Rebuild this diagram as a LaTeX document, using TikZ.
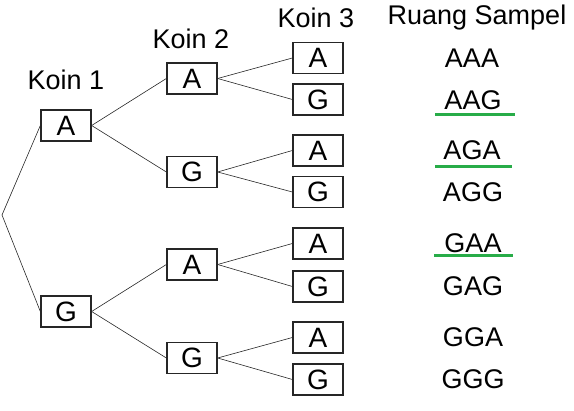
\documentclass[tikz,border=0pt]{standalone}
\usepackage{fontspec}
\setmainfont{Liberation Sans}
\definecolor{ulgreen}{RGB}{40,172,72}
\begin{document}
\begin{tikzpicture}[x=1pt,y=-1pt,
  box/.style={draw=black!85,line width=1.3pt,minimum width=50pt,minimum height=31pt,inner sep=0pt,font=\fontsize{28}{28}\selectfont},
  lbl/.style={inner sep=0pt,font=\fontsize{27}{27}\selectfont},
  res/.style={inner sep=0pt,font=\fontsize{27}{27}\selectfont},
  br/.style={draw=black!85,line width=0.6pt},
  ul/.style={draw=ulgreen,line width=3pt}]
\useasboundingbox (0,0) rectangle (574,411);
\coordinate (root) at (2,215);
\node[box] (a) at (66,125.5) {A};
\node[box] (g) at (66,311.5) {G};
\node[box] (aa) at (192,78.5) {A};
\node[box] (ag) at (192,172) {G};
\node[box] (ga) at (192,264.5) {A};
\node[box] (gg) at (192,358) {G};
\node[box] (aaa) at (318,58) {A};
\node[box] (aag) at (318,99.5) {G};
\node[box] (aga) at (318,150.5) {A};
\node[box] (agg) at (318,192) {G};
\node[box] (gaa) at (318,243.5) {A};
\node[box] (gag) at (318,286.5) {G};
\node[box] (gga) at (318,337.5) {A};
\node[box] (ggg) at (318,379.5) {G};
\node[lbl] (k1) at (66,80) {Koin 1};
\node[lbl] (k2) at (191,39) {Koin 2};
\node[lbl] (k3) at (316,18) {Koin 3};
\node[lbl] (rs) at (477,18) {Ruang Sampel};
\node[res] (r1) at (472,58) {AAA};
\node[res] (r2) at (473,100) {AAG};
\node[res] (r3) at (472,150) {AGA};
\node[res] (r4) at (473,192) {AGG};
\node[res] (r5) at (473,243) {GAA};
\node[res] (r6) at (473,286) {GAG};
\node[res] (r7) at (473,337) {GGA};
\node[res] (r8) at (473,379) {GGG};
\coordinate (u1a) at (435,115); \coordinate (u1b) at (515,115);
\coordinate (u2a) at (435,167); \coordinate (u2b) at (512,167);
\coordinate (u3a) at (434,256); \coordinate (u3b) at (513,256);
\draw[ul] (u1a) -- (u1b);
\draw[ul] (u2a) -- (u2b);
\draw[ul] (u3a) -- (u3b);
\draw[br] (root) -- (a.west);
\draw[br] (root) -- (g.west);
\draw[br] (a.east) -- (aa.west);
\draw[br] (a.east) -- (ag.west);
\draw[br] (g.east) -- (ga.west);
\draw[br] (g.east) -- (gg.west);
\draw[br] (aa.east) -- (aaa.west);
\draw[br] (aa.east) -- (aag.west);
\draw[br] (ag.east) -- (aga.west);
\draw[br] (ag.east) -- (agg.west);
\draw[br] (ga.east) -- (gaa.west);
\draw[br] (ga.east) -- (gag.west);
\draw[br] (gg.east) -- (gga.west);
\draw[br] (gg.east) -- (ggg.west);
\end{tikzpicture}
\end{document}
